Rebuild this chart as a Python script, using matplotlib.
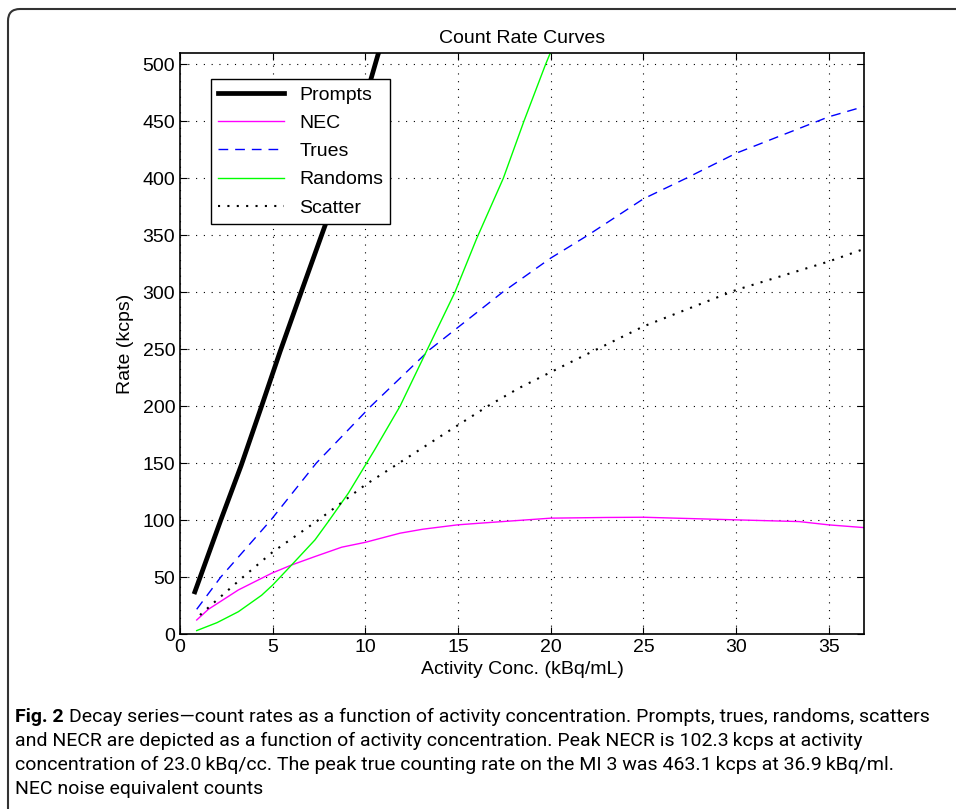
import matplotlib
matplotlib.use("Agg")
import matplotlib.pyplot as plt
from matplotlib import font_manager
from matplotlib.patches import FancyBboxPatch

# values
prompts_x = [0.8, 2.2, 3.3, 4.4, 5.4, 6.6, 7.9, 9.2, 10.67, 10.75]
prompts = [37, 100, 148, 200, 248, 303, 362, 425, 508, 512]

nec_x = [0.9, 1.53, 3.15, 4.94, 6.02, 7.28, 8.72, 10.0, 11.87, 13.1, 14.96,
         16.2, 20.0, 23.0, 25.0, 30.0, 33.4, 35.0, 36.9]
nec = [12.3, 21.7, 38.7, 53.3, 60.6, 68, 76.2, 80.5, 88.5, 92, 95.8,
       97.3, 101.7, 102.3, 102.5, 100.2, 98.7, 95.8, 93.4]

trues_x = [0.9, 2.2, 4.9, 7.35, 10.3, 13.5, 17.4, 20.0, 22.0, 25.0, 27.3, 30.0, 35.0, 36.9]
trues = [21.7, 50, 100, 150, 200, 250, 300, 330, 350, 382, 400, 422, 454, 463]

randoms_x = [0.9, 2.0, 3.15, 4.4, 5.0, 6.02, 7.28, 8.0, 9.08, 10.5, 11.87,
             13.2, 14.83, 16.0, 17.44, 18.55, 19.72, 20.0]
randoms = [3, 10, 19.6, 34, 43, 60.6, 82.6, 98.7, 123.6, 161.7, 200,
           245, 300, 347, 400, 450, 500, 511]

scatter_x = [1.08, 2.0, 3.4, 5.0, 7.46, 10.0, 14.0, 16.6, 18.3, 21.0, 25.0, 30.0, 35.0, 36.9]
scatter = [16.7, 30, 50, 72, 100, 131, 173, 200, 216, 238, 270, 302, 327, 338]

caption = [
    "Decay series\u2014count rates as a function of activity concentration. Prompts, trues, randoms, scatters",
    "and NECR are depicted as a function of activity concentration. Peak NECR is 102.3\u2009kcps at activity",
    "concentration of 23.0\u2009kBq/cc. The peak true counting rate on the MI 3 was 463.1\u2009kcps at 36.9\u2009kBq/ml.",
    "NEC noise equivalent counts",
]

plt.rcParams['font.family'] = ['Liberation Sans', 'DejaVu Sans']

names = {f.name for f in font_manager.fontManager.ttflist}
if 'Liberation Sans Narrow' in names:
    cap_font, cap_size = 'Liberation Sans Narrow', 14
else:
    cap_font, cap_size = 'Roboto', 14

fig = plt.figure(figsize=(9.56, 8.09), dpi=100)
ax = fig.add_axes([0.1883, 0.2163, 0.7155, 0.7182])

ax.plot(prompts_x, prompts, color='black', lw=3.4, label='Prompts')
ax.plot(nec_x, nec, color='#ff00ff', lw=1.0, label='NEC')
ax.plot(trues_x, trues, color='#0000ff', lw=1.0, ls=(0, (7, 5)), label='Trues')
ax.plot(randoms_x, randoms, color='#00ff00', lw=1.0, label='Randoms')
ax.plot(scatter_x, scatter, color='black', lw=1.5, ls=(0, (1, 3.5)), label='Scatter')

ax.set_xlim(0, 36.9)
ax.set_ylim(0, 510)
ax.set_xticks(range(0, 36, 5))
ax.set_yticks(range(0, 501, 50))
ax.tick_params(direction='in', top=True, right=True, labelsize=14, length=5, width=0.8)
for s in ax.spines.values():
    s.set_linewidth(1.2)
ax.grid(True, color='black', lw=0.8, ls=(0, (1, 6)))

ax.set_title('Count Rate Curves', fontsize=14, pad=7)
ax.set_xlabel('Activity Conc. (kBq/mL)', fontsize=14, labelpad=4)
ax.set_ylabel('Rate (kcps)', fontsize=14, labelpad=6)

leg = ax.legend(loc='upper left', bbox_to_anchor=(0.045, 0.955), fontsize=14,
                handlelength=3.4, labelspacing=0.55, borderpad=0.35,
                fancybox=False, framealpha=1, edgecolor='black', borderaxespad=0)
leg.get_frame().set_linewidth(1.0)

# frame around the whole figure panel
box = FancyBboxPatch((8, -40), 1000, 840, boxstyle='round,pad=0,rounding_size=12',
                     transform=None, fill=False, edgecolor='#333333', lw=1.5)
fig.patches.append(box)

# caption
y0 = 809 - 717
for i, line in enumerate(caption):
    yy = (y0 - i * 24) / 809
    if i == 0:
        t = fig.text(15 / 956, yy, 'Fig. 2', fontsize=cap_size, fontweight='bold',
                     family=cap_font, va='center')
        ax.annotate(line, xy=(1, 0.5), xycoords=t, xytext=(4, 0), textcoords='offset points',
                    fontsize=cap_size, family=cap_font, va='center', annotation_clip=False)
    else:
        fig.text(15 / 956, yy, line, fontsize=cap_size, family=cap_font, va='center')

fig.savefig('out.png', dpi=100)
